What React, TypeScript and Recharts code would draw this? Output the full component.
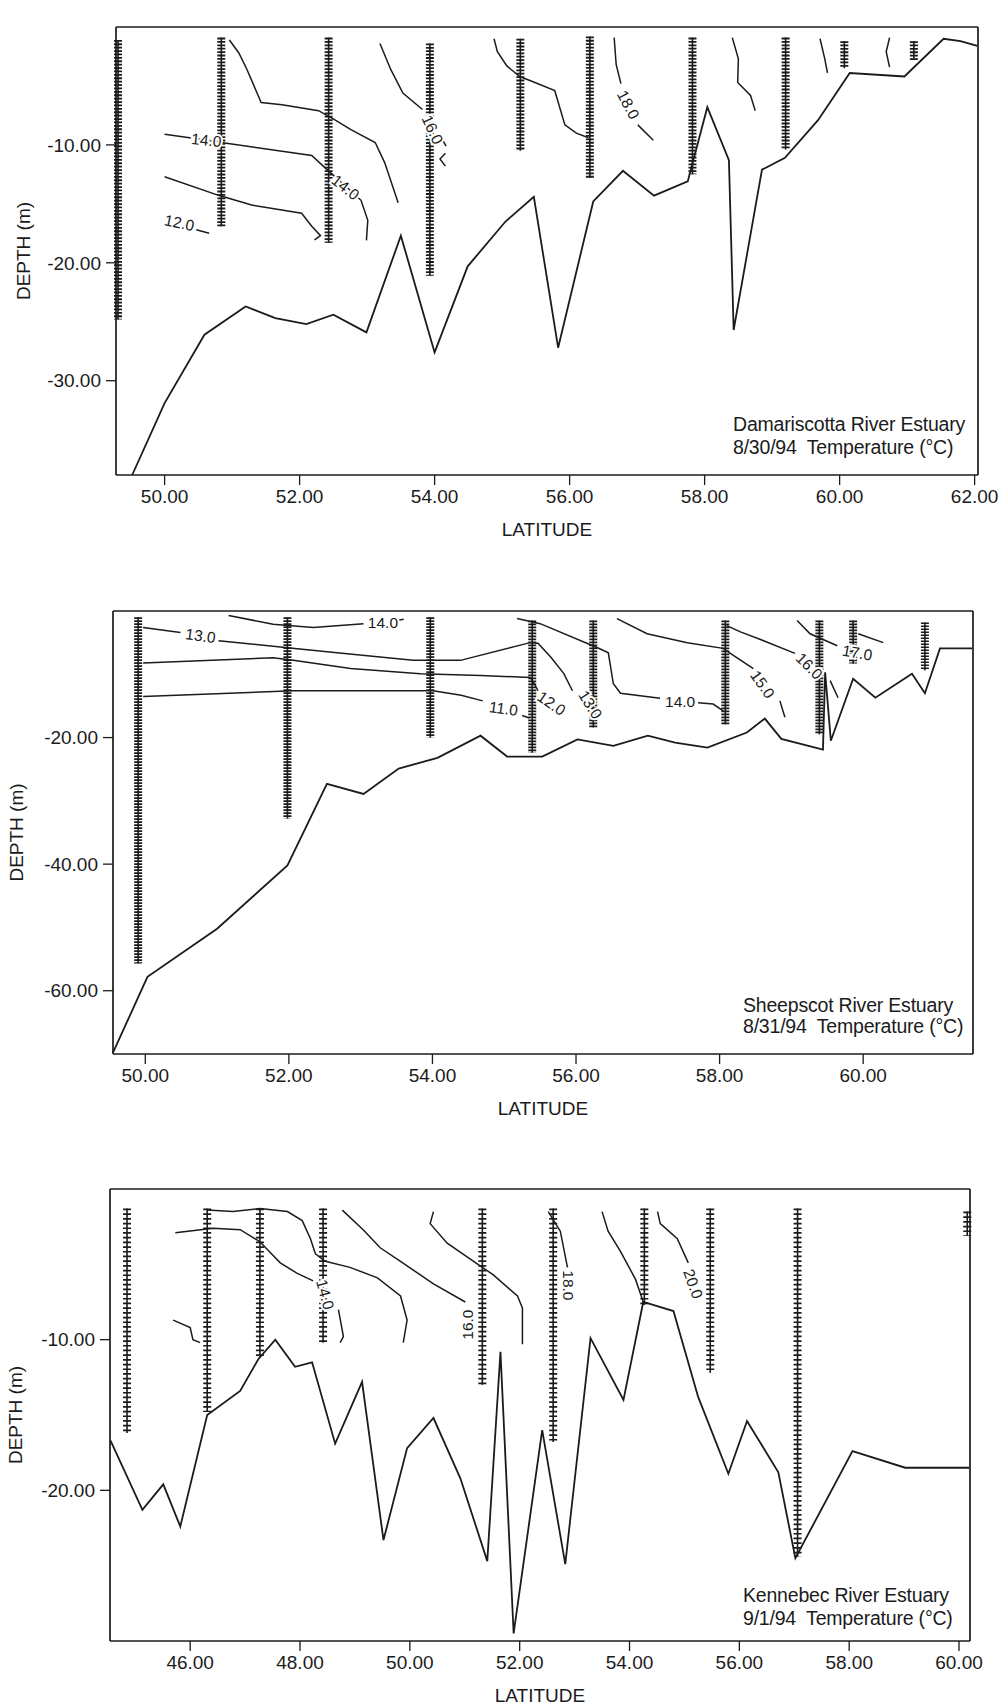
import React from 'react';
import { ComposedChart, Line, XAxis, YAxis, ReferenceDot } from 'recharts';

type P = [number, number];
type Station = [number, number, number]; // latitude, top depth, bottom depth
type Tag = [number, number, string, number]; // latitude, depth, text, angle

const FONT = '"Liberation Sans", Arial, sans-serif';
const INK = '#1b1b1b';

// Damariscotta River Estuary 8/30/94
const damLatTicks = [50, 52, 54, 56, 58, 60, 62];
const damDepthTicks = [-30, -20, -10];
const damBottom: P[] = [
  [49.52, -38.0], [50.0, -31.9], [50.59, -26.1], [51.2, -23.7], [51.64, -24.7], [52.1, -25.2],
  [52.5, -24.4], [52.99, -25.9], [53.5, -17.7], [54.0, -27.6], [54.49, -20.3], [55.05, -16.5],
  [55.47, -14.4], [55.83, -27.2], [56.35, -14.8], [56.79, -12.2], [57.25, -14.3], [57.75, -13.1],
  [58.04, -6.8], [58.36, -11.3], [58.43, -25.7], [58.85, -12.1], [59.19, -11.1], [59.68, -7.9],
  [60.15, -3.9], [60.96, -4.2], [61.54, -1.0], [61.79, -1.2], [62.04, -1.6],
];
const damStations: Station[] = [
  [49.31, -1.1, -24.8], [50.84, -0.9, -16.9], [52.43, -0.9, -18.3], [53.93, -1.4, -21.1],
  [55.27, -1.0, -10.5], [56.3, -0.8, -12.8], [57.82, -0.9, -12.5], [59.2, -0.9, -10.4],
  [60.07, -1.2, -3.5], [61.1, -1.2, -2.8],
];
const damContours: P[][] = [
  [[50.96, -1.1], [51.1, -2.2], [51.22, -3.6], [51.43, -6.4], [51.74, -6.6], [52.28, -7.1], [52.53, -7.9], [52.76, -8.7], [53.12, -9.8], [53.26, -11.5], [53.46, -14.9]],
  [[50.0, -9.1], [50.37, -9.4], [50.84, -9.8], [52.18, -10.9], [52.35, -11.8], [52.68, -13.5], [52.91, -14.7], [53.01, -16.4], [52.99, -18.1]],
  [[50.0, -12.7], [50.81, -14.3], [51.29, -15.1], [52.03, -15.8], [52.18, -16.9], [52.31, -17.7], [52.22, -18.05]],
  [[50.47, -17.2], [50.66, -17.5]],
  [[53.19, -1.4], [53.35, -3.6], [53.53, -5.6], [53.82, -7.0]],
  [[54.12, -9.6], [54.17, -10.1]],
  [[54.16, -10.7], [54.08, -11.2], [54.16, -11.8]],
  [[54.88, -1.0], [54.93, -2.1], [55.07, -3.3], [55.26, -4.2], [55.44, -4.6], [55.78, -5.4], [55.93, -8.3], [56.1, -9.0], [56.28, -9.4]],
  [[56.66, -0.9], [56.69, -3.2], [56.76, -4.8]],
  [[57.01, -8.3], [57.24, -9.6]],
  [[58.41, -0.9], [58.5, -2.7], [58.49, -4.7], [58.68, -5.8], [58.75, -7.1]],
  [[59.71, -1.0], [59.78, -2.7], [59.82, -3.9]],
  [[60.74, -0.9], [60.69, -2.1], [60.74, -3.4]],
];
const damTags: Tag[] = [
  [50.62, -9.6, '14.0', 6],
  [52.68, -13.6, '14.0', 38],
  [50.22, -16.6, '12.0', 12],
  [53.97, -8.7, '16.0', 65],
  [56.87, -6.6, '18.0', 62],
];

// Sheepscot River Estuary 8/31/94
const sheLatTicks = [50, 52, 54, 56, 58, 60];
const sheDepthTicks = [-60, -40, -20];
const sheBottom: P[] = [
  [49.55, -69.8], [50.03, -57.8], [51.0, -50.2], [51.98, -40.2], [52.53, -27.3], [53.04, -28.9],
  [53.53, -24.9], [54.07, -23.2], [54.67, -19.7], [55.04, -23.0], [55.53, -23.0], [56.02, -20.3],
  [56.52, -21.3], [57.0, -19.7], [57.38, -20.8], [57.83, -21.6], [58.38, -19.2], [58.63, -17.0],
  [58.86, -20.2], [59.44, -21.9], [59.47, -9.7], [59.55, -20.5], [59.86, -10.7], [60.17, -13.7],
  [60.68, -9.9], [60.86, -13.0], [61.07, -5.9], [61.52, -5.9],
];
const sheStations: Station[] = [
  [49.9, -1.0, -55.7], [51.98, -1.0, -32.8], [53.97, -1.0, -20.0], [55.39, -1.5, -22.4],
  [56.24, -1.5, -18.4], [58.08, -1.5, -17.9], [59.39, -1.5, -19.5], [59.86, -1.5, -8.3],
  [60.86, -1.8, -9.4],
];
const sheContours: P[][] = [
  [[51.16, -0.7], [51.78, -2.1], [52.34, -2.6], [53.04, -2.0]],
  [[53.5, -1.5], [53.6, -1.3]],
  [[49.97, -2.6], [50.49, -3.4]],
  [[51.02, -4.7], [51.98, -5.8], [52.67, -6.6], [53.73, -7.8], [54.39, -7.8], [55.36, -5.0], [55.47, -5.1], [55.65, -7.3], [55.83, -9.9], [55.95, -12.6]],
  [[49.97, -8.2], [51.78, -7.4], [52.06, -7.8], [52.86, -9.1], [53.83, -9.9], [54.67, -10.2], [55.36, -10.5], [55.42, -11.5], [55.47, -12.6]],
  [[49.97, -13.5], [52.06, -12.6], [54.01, -12.6], [54.4, -13.3], [54.7, -14.2]],
  [[55.25, -16.5], [55.35, -16.9]],
  [[55.18, -1.2], [55.5, -2.0], [56.3, -5.8], [56.45, -6.6], [56.52, -11.5], [56.62, -13.0], [57.17, -13.8]],
  [[57.7, -14.5], [57.91, -14.7], [58.05, -15.8]],
  [[56.57, -1.2], [56.99, -3.6], [57.55, -5.0], [58.05, -5.9], [58.15, -6.7], [58.47, -9.1]],
  [[58.84, -14.2], [58.91, -16.8]],
  [[58.1, -2.3], [58.29, -3.3], [58.57, -4.5], [59.05, -6.7]],
  [[59.54, -11.0], [59.65, -13.7]],
  [[59.08, -1.5], [59.26, -3.6], [59.64, -5.5]],
  [[59.93, -3.6], [60.28, -5.0]],
];
const sheTags: Tag[] = [
  [53.31, -1.8, '14.0', 0],
  [50.77, -3.9, '13.0', 8],
  [56.2, -14.8, '13.0', 58],
  [55.66, -14.6, '12.0', 35],
  [54.99, -15.4, '11.0', 8],
  [57.45, -14.3, '14.0', 0],
  [58.6, -11.6, '15.0', 55],
  [59.25, -8.7, '16.0', 45],
  [59.92, -6.6, '17.0', 10],
];

// Kennebec River Estuary 9/1/94
const kenLatTicks = [46, 48, 50, 52, 54, 56, 58, 60];
const kenDepthTicks = [-20, -10];
const kenBottom: P[] = [
  [44.55, -16.7], [45.13, -21.3], [45.51, -19.6], [45.82, -22.4], [46.31, -15.0], [46.91, -13.4],
  [47.24, -11.3], [47.55, -10.0], [47.91, -11.8], [48.22, -11.5], [48.64, -16.9], [49.13, -12.8],
  [49.52, -23.3], [49.95, -17.2], [50.43, -15.2], [50.92, -19.2], [51.41, -24.7], [51.65, -10.8],
  [51.89, -29.5], [52.41, -16.0], [52.83, -24.9], [53.29, -9.9], [53.89, -14.0], [54.25, -7.5],
  [54.8, -8.1], [55.25, -13.8], [55.8, -18.9], [56.14, -15.4], [56.71, -18.8], [57.02, -24.5],
  [58.06, -17.4], [59.02, -18.5], [60.19, -18.5],
];
const kenStations: Station[] = [
  [44.85, -1.3, -16.2], [46.31, -1.3, -14.8], [47.27, -1.3, -11.2], [48.42, -1.3, -10.2],
  [51.32, -1.3, -13.0], [52.61, -1.3, -16.8], [54.27, -1.3, -7.7], [55.47, -1.3, -12.2],
  [57.06, -1.3, -24.4], [60.15, -1.5, -3.1],
];
const kenContours: P[][] = [
  [[46.31, -1.4], [46.78, -1.5], [47.27, -1.3], [47.77, -1.5], [48.04, -2.1], [48.19, -3.3], [48.28, -4.3], [48.46, -4.8], [48.91, -5.2], [49.41, -5.9], [49.83, -7.1], [49.95, -8.7], [49.88, -10.2]],
  [[45.73, -2.9], [46.42, -2.6], [46.91, -2.7], [47.27, -3.5], [47.64, -4.9], [47.95, -5.6], [48.24, -6.1]],
  [[48.7, -8.0], [48.79, -9.8], [48.73, -10.2]],
  [[45.69, -8.7], [46.0, -9.2], [46.05, -10.0], [46.18, -10.2]],
  [[48.77, -1.4], [49.15, -2.7], [49.46, -3.9], [49.83, -4.8], [50.43, -6.3], [51.01, -7.5]],
  [[50.43, -1.5], [50.37, -2.3], [50.68, -3.6], [51.28, -5.1], [51.52, -5.7], [51.96, -7.1], [52.05, -7.9], [52.05, -10.3]],
  [[52.52, -1.5], [52.74, -2.8], [52.87, -5.2]],
  [[53.5, -1.5], [53.61, -2.8], [53.83, -4.1], [54.11, -6.0], [54.25, -7.5]],
  [[54.51, -1.5], [54.56, -2.3], [54.87, -3.3], [55.07, -4.9]],
];
const kenTags: Tag[] = [
  [48.46, -7.0, '14.0', 75],
  [51.05, -9.0, '16.0', -90],
  [52.88, -6.4, '18.0', 90],
  [55.16, -6.3, '20.0', 70],
];

const pts = (a: P[]) => a.map(([x, y]) => ({ x, y }));

const tagShape = (text: string, angle: number) => (p: any) => (
  <text
    x={p.cx}
    y={p.cy}
    transform={`rotate(${angle} ${p.cx} ${p.cy})`}
    textAnchor="middle"
    dominantBaseline="central"
    fontSize={15.5}
    fontFamily={FONT}
    fill={INK}
    stroke="#fff"
    strokeWidth={4}
    paintOrder="stroke"
  >
    {text}
  </text>
);

interface PanelProps {
  top: number;
  height: number;
  margin: { top: number; right: number; bottom: number; left: number };
  latDomain: [number, number];
  depthDomain: [number, number];
  latTicks: number[];
  depthTicks: number[];
  bottom: P[];
  stations: Station[];
  contours: P[][];
  tags: Tag[];
  dash: string;
  titleOffset: number;
}

const tickStyle = { fontSize: 19, fill: INK, fontFamily: FONT };
const titleStyle = { fontSize: 19, fontFamily: FONT, fill: INK };
const fmt = (v: number) => v.toFixed(2);
const blank = () => '';

function Panel(props: PanelProps) {
  const { top, height, margin, latDomain, depthDomain, latTicks, depthTicks } = props;
  return (
    <div style={{ position: 'absolute', left: 0, top, width: 1004, height }}>
      <ComposedChart width={1004} height={height} margin={margin}>
        <XAxis
          type="number"
          dataKey="x"
          domain={latDomain}
          ticks={latTicks}
          interval={0}
          tickFormatter={fmt}
          tick={tickStyle}
          tickSize={10}
          tickMargin={5}
          height={66}
          axisLine={{ stroke: INK, strokeWidth: 1.7 }}
          tickLine={{ stroke: INK, strokeWidth: 1.3 }}
          label={{ value: 'LATITUDE', position: 'insideBottom', offset: 5, fill: INK, style: titleStyle }}
        />
        <XAxis
          xAxisId="top"
          orientation="top"
          type="number"
          dataKey="x"
          domain={latDomain}
          ticks={latTicks}
          interval={0}
          tickFormatter={blank}
          tickSize={14}
          height={14}
          axisLine={{ stroke: INK, strokeWidth: 1.7 }}
          tickLine={{ stroke: INK, strokeWidth: 1.3 }}
        />
        <YAxis
          type="number"
          dataKey="y"
          domain={depthDomain}
          ticks={depthTicks}
          interval={0}
          tickFormatter={fmt}
          tick={tickStyle}
          tickSize={10}
          tickMargin={5}
          width={100}
          axisLine={{ stroke: INK, strokeWidth: 1.7 }}
          tickLine={{ stroke: INK, strokeWidth: 1.3 }}
          label={{
            value: 'DEPTH (m)',
            angle: -90,
            position: 'insideLeft',
            offset: props.titleOffset,
            fill: INK,
            style: { ...titleStyle, textAnchor: 'middle' },
          }}
        />
        <YAxis
          yAxisId="right"
          orientation="right"
          type="number"
          dataKey="y"
          domain={depthDomain}
          ticks={depthTicks}
          interval={0}
          tickFormatter={blank}
          tickSize={12}
          width={14}
          axisLine={{ stroke: INK, strokeWidth: 1.7 }}
          tickLine={{ stroke: INK, strokeWidth: 1.3 }}
        />
        {props.stations.map(([lat, d0, d1], i) => (
          <Line
            key={'st' + i}
            data={[{ x: lat, y: d0 }, { x: lat, y: d1 }]}
            dataKey="y"
            stroke={INK}
            strokeWidth={1.6}
            dot={false}
            isAnimationActive={false}
          />
        ))}
        {props.stations.map(([lat, d0, d1], i) => (
          <Line
            key={'sm' + i}
            data={[{ x: lat, y: d0 }, { x: lat, y: d1 }]}
            dataKey="y"
            stroke={INK}
            strokeWidth={8}
            strokeDasharray={props.dash}
            strokeLinecap="butt"
            dot={false}
            isAnimationActive={false}
          />
        ))}
        {props.contours.map((c, i) => (
          <Line
            key={'c' + i}
            data={pts(c)}
            dataKey="y"
            type="linear"
            stroke={INK}
            strokeWidth={1.5}
            dot={false}
            isAnimationActive={false}
          />
        ))}
        <Line
          data={pts(props.bottom)}
          dataKey="y"
          type="linear"
          stroke={INK}
          strokeWidth={1.8}
          dot={false}
          isAnimationActive={false}
        />
        {props.tags.map(([lat, d, text, angle], i) => (
          <ReferenceDot key={'t' + i} x={lat} y={d} r={0} shape={tagShape(text, angle)} />
        ))}
      </ComposedChart>
    </div>
  );
}

const noteStyle: React.CSSProperties = {
  position: 'absolute',
  fontFamily: FONT,
  fontSize: 19.5,
  color: INK,
  whiteSpace: 'pre',
  letterSpacing: -0.2,
};

export default function App() {
  return (
    <div style={{ position: 'absolute', left: 0, top: 0, width: 1004, height: 1708, background: '#fff', overflow: 'hidden' }}>
      <Panel
        top={0}
        height={560}
        margin={{ top: 13, right: 12, bottom: 19, left: 16 }}
        latDomain={[49.28, 62.05]}
        depthDomain={[-38, 0]}
        latTicks={damLatTicks}
        depthTicks={damDepthTicks}
        bottom={damBottom}
        stations={damStations}
        contours={damContours}
        tags={damTags}
        dash="1.8 1.6"
        titleOffset={7}
      />
      <Panel
        top={560}
        height={570}
        margin={{ top: 37, right: 17, bottom: 10, left: 13 }}
        latDomain={[49.55, 61.53]}
        depthDomain={[-70, 0]}
        latTicks={sheLatTicks}
        depthTicks={sheDepthTicks}
        bottom={sheBottom}
        stations={sheStations}
        contours={sheContours}
        tags={sheTags}
        dash="1.7 1.3"
        titleOffset={3}
      />
      <Panel
        top={1130}
        height={578}
        margin={{ top: 45, right: 20, bottom: 1, left: 10 }}
        latDomain={[44.54, 60.2]}
        depthDomain={[-30, 0]}
        latTicks={kenLatTicks}
        depthTicks={kenDepthTicks}
        bottom={kenBottom}
        stations={kenStations}
        contours={kenContours}
        tags={kenTags}
        dash="1.7 3.0"
        titleOffset={5}
      />
      <div style={{ ...noteStyle, left: 733, top: 413, lineHeight: '23px' }}>
        {'Damariscotta River Estuary\n8/30/94  Temperature (°C)'}
      </div>
      <div style={{ ...noteStyle, left: 743, top: 995, lineHeight: '21px' }}>
        {'Sheepscot River Estuary\n8/31/94  Temperature (°C)'}
      </div>
      <div style={{ ...noteStyle, left: 743, top: 1584, lineHeight: '23px' }}>
        {'Kennebec River Estuary\n9/1/94  Temperature (°C)'}
      </div>
    </div>
  );
}
